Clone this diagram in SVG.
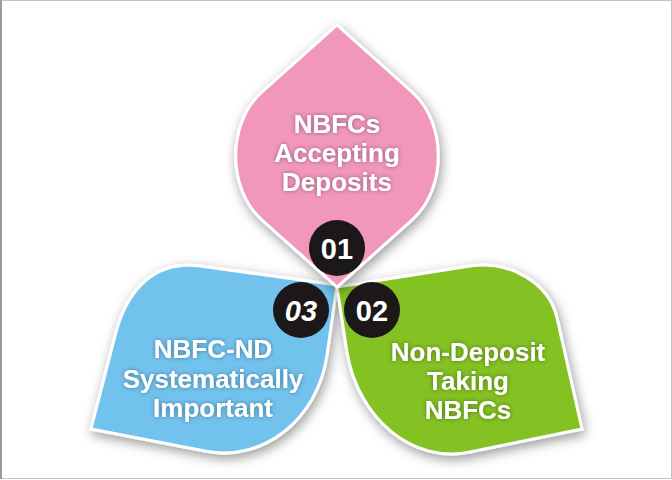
<svg xmlns="http://www.w3.org/2000/svg" width="672" height="480" viewBox="0 0 672 480">
<defs>
<filter id="petalShadow" x="-20%" y="-20%" width="140%" height="140%">
<feDropShadow dx="2" dy="4" stdDeviation="6" flood-color="#000" flood-opacity="0.4"/>
</filter>
<filter id="textGlow" x="-10%" y="-30%" width="120%" height="160%">
<feDropShadow dx="0" dy="0" stdDeviation="2" flood-color="#000" flood-opacity="0.4"/>
</filter>
<style>
.petal{stroke:#fff;stroke-width:3;stroke-linejoin:miter;filter:url(#petalShadow);}
.label{font-family:"Liberation Sans",Arial,sans-serif;font-weight:bold;font-size:26px;fill:#fff;text-anchor:middle;filter:url(#textGlow);}
.badge{fill:#1c1718;}
.num{font-family:"Liberation Sans",Arial,sans-serif;font-weight:bold;font-size:29px;fill:#fff;text-anchor:middle;}
</style>
</defs>
<rect x="0" y="0" width="672" height="480" fill="#fff"/>
<rect x="0.5" y="0.5" width="671" height="478" fill="none" stroke="#c4c4c4" stroke-width="1"/>
<line x1="1" y1="0" x2="1" y2="479" stroke="#9a9a9a" stroke-width="2"/>

<g id="node-03">
<path class="petal" fill="#72c2ee" d="M337,285 L200,266 C156,260 128,288 116,332 L91,429 L205,451 C263,463 318,419 327,355 Z"/>
<text class="label" x="213" y="358">NBFC-ND</text>
<text class="label" x="213" y="388">Systematically</text>
<text class="label" x="213" y="417">Important</text>
</g>

<g id="node-02">
<path class="petal" fill="#84c124" d="M337,287 L470,266 C510,260 549,283 557,318 L582,429 L470,452 C413,464 358,419 347,352 Z"/>
<text class="label" x="468" y="361">Non-Deposit</text>
<text class="label" x="468" y="390">Taking</text>
<text class="label" x="468" y="419">NBFCs</text>
</g>

<g id="node-01">
<path class="petal" fill="#f097bb" d="M337,25 L412,92 C447,123 447,189 412,220 L337,287 L262,220 C227,189 227,123 262,92 Z"/>
<text class="label" x="337" y="133">NBFCs</text>
<text class="label" x="337" y="162">Accepting</text>
<text class="label" x="337" y="191">Deposits</text>
</g>

<g id="badge-01">
<circle class="badge" cx="337" cy="248" r="28"/>
<text class="num" x="337" y="258.5">01</text>
</g>
<g id="badge-02">
<circle class="badge" cx="372" cy="310" r="28"/>
<text class="num" x="372" y="320.5">02</text>
</g>
<g id="badge-03">
<circle class="badge" cx="301" cy="310" r="28"/>
<text class="num" x="301" y="320.5" font-style="italic">03</text>
</g>
</svg>
